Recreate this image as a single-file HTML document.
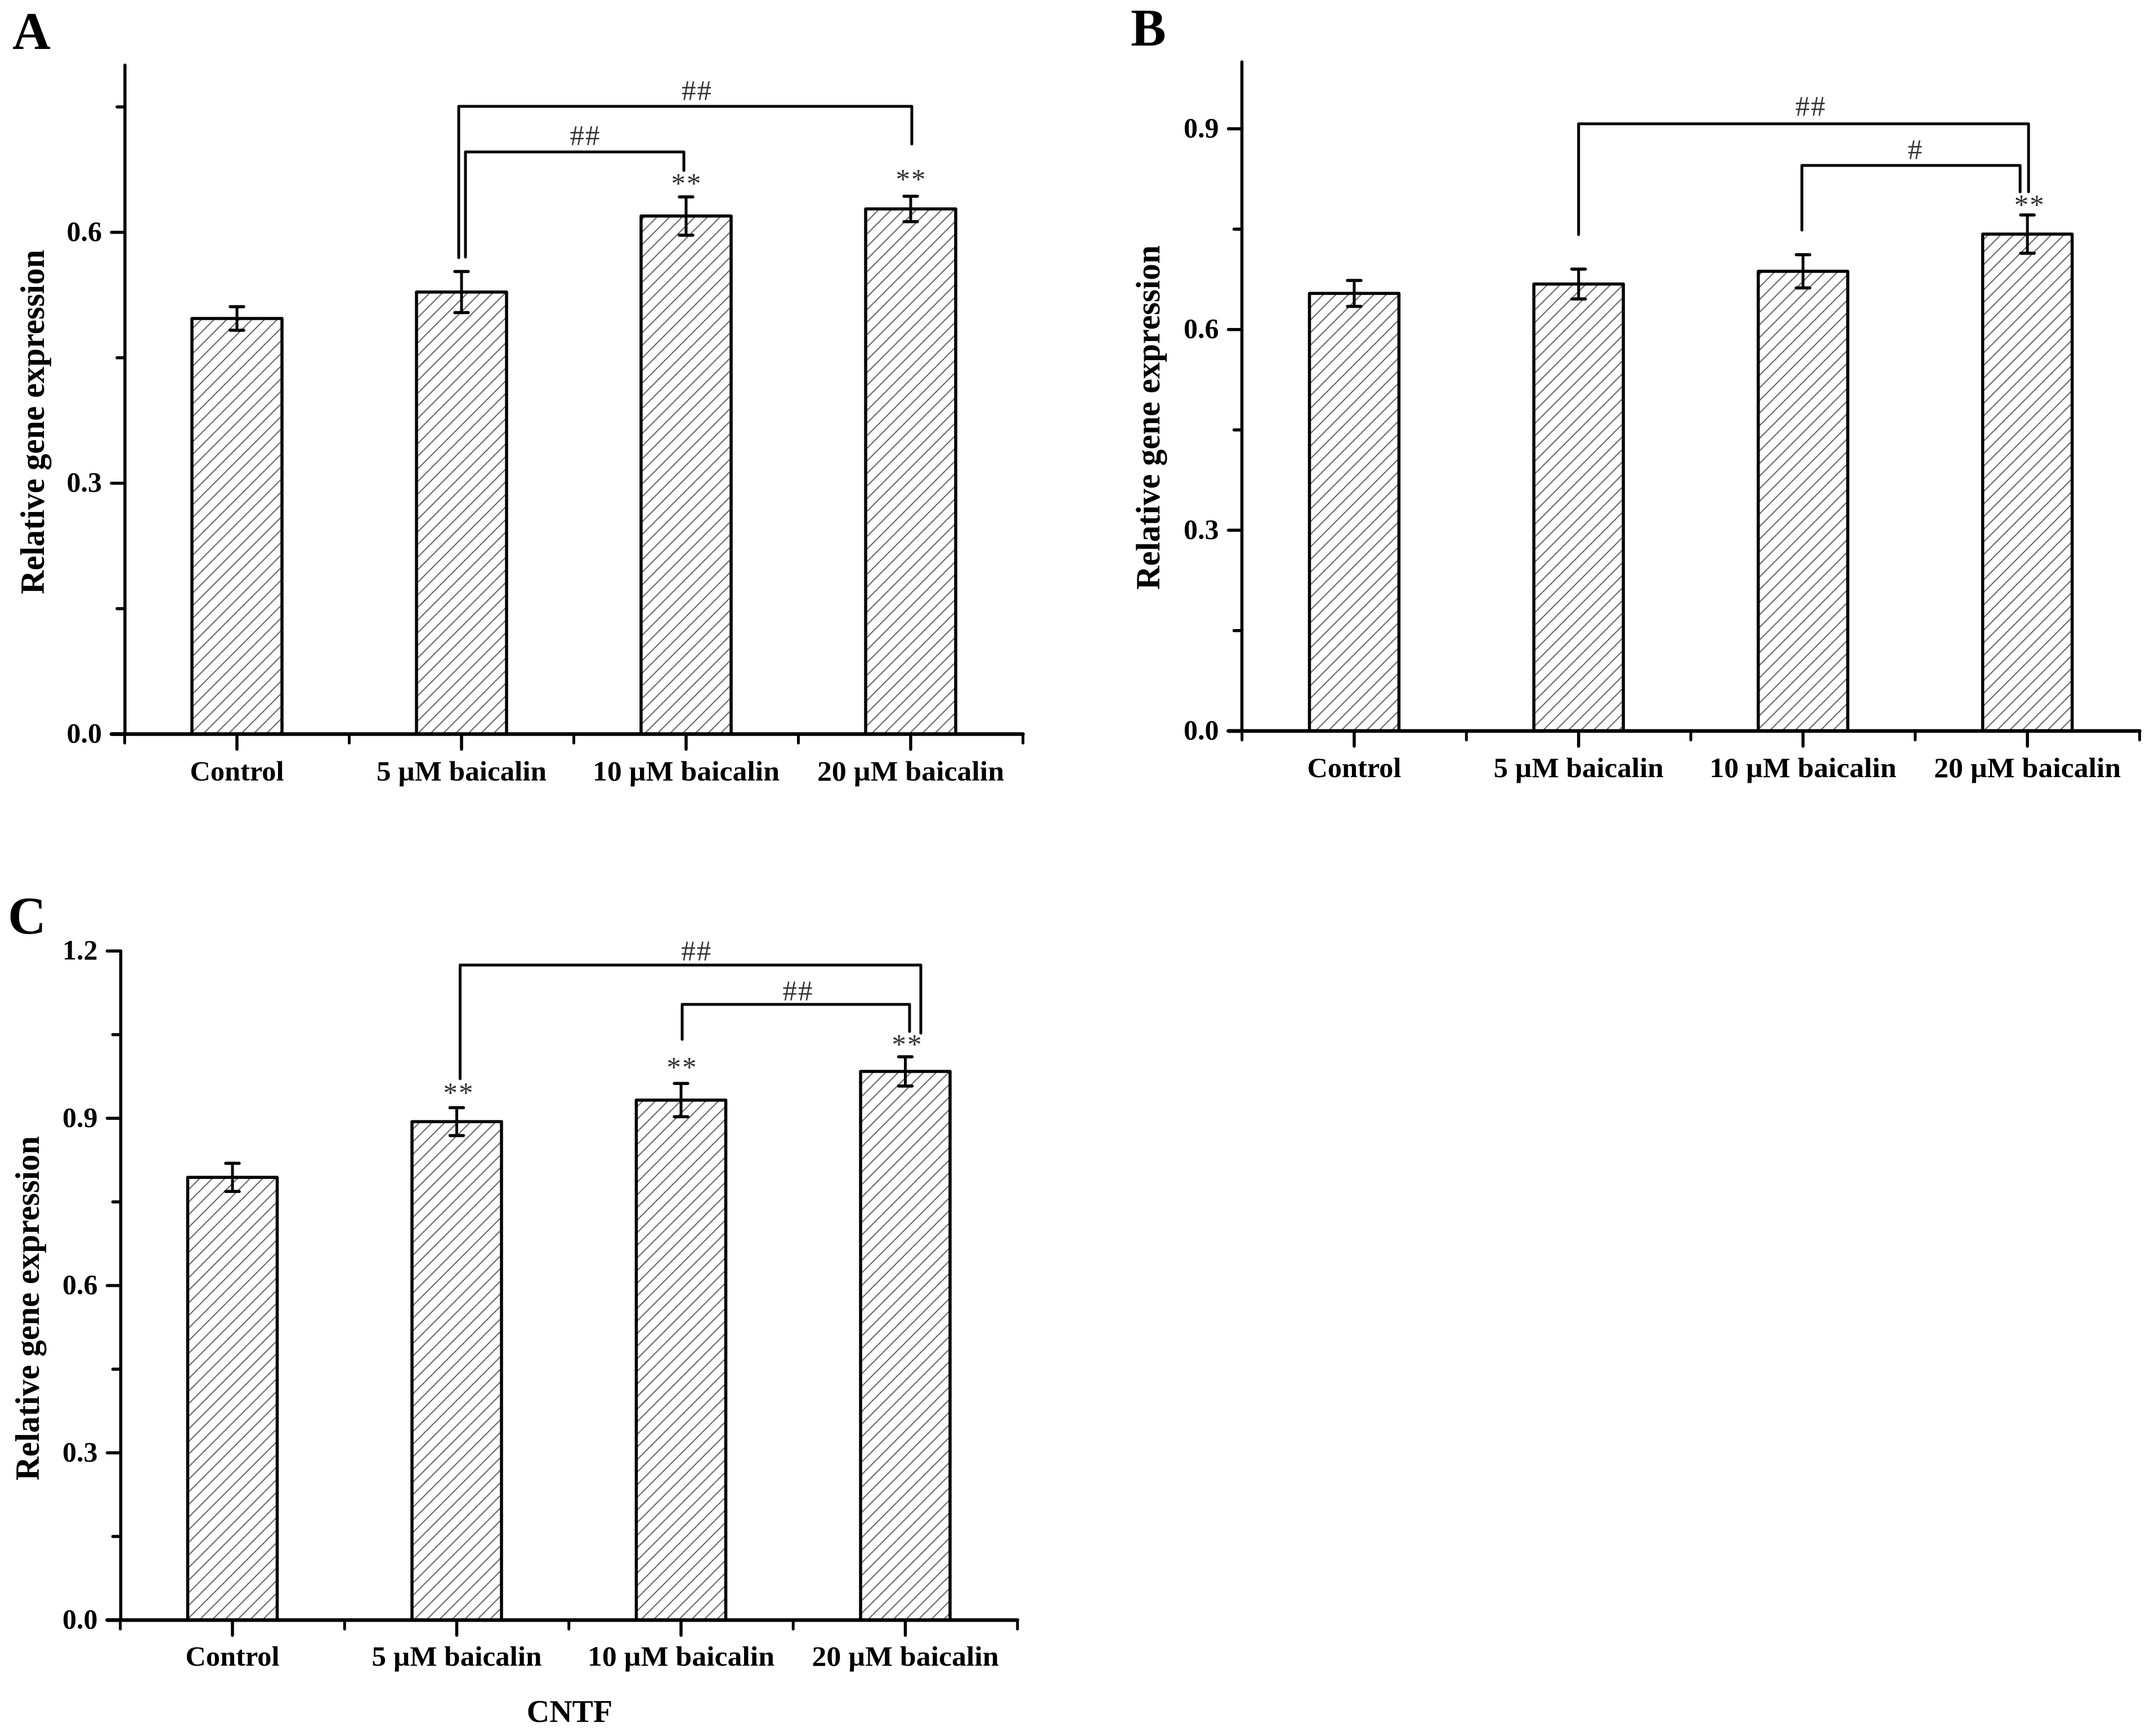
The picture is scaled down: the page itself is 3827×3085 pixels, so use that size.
<!DOCTYPE html>
<html lang="en">
<head>
<meta charset="utf-8">
<title>Relative gene expression with baicalin treatment</title>
<style>
  html, body { margin: 0; padding: 0; background: #fff; }
  svg { display: block; }
  text { font-family: "Liberation Serif", "Times New Roman", serif; fill: #000; }
  .tick { font-size: 50px; font-weight: bold; }
  .ytitle { font-size: 60px; font-weight: bold; }
  .letter { font-size: 94px; font-weight: bold; }
  .sig { font-size: 51px; fill: #333; letter-spacing: 2px; }
</style>
</head>
<body>
<svg id="figure" xmlns="http://www.w3.org/2000/svg" width="3827" height="3085" viewBox="0 0 3827 3085">
  <rect x="0" y="0" width="3827" height="3085" fill="#fff"/>
  <defs>
    <pattern id="hatch-a" patternUnits="userSpaceOnUse" width="22.4" height="22.4" patternTransform="translate(7.4 0)">
      <path d="M-2 24.4 L24.4 -2 M-2 2 L2 -2 M20.4 24.4 L24.4 20.4" stroke="#666" stroke-width="2.1" fill="none"/>
    </pattern>
  </defs>
  <g id="root"></g>
</svg>
<script>
const categories = ['Control', '5 \u00b5M baicalin', '10 \u00b5M baicalin', '20 \u00b5M baicalin'];

const majorTicksA = [0, 0.3, 0.6];
const minorTicksA = [0.15, 0.45, 0.75];
const majorLabelsA = ['0.0', '0.3', '0.6'];
const valuesA = [0.497, 0.5286, 0.6195, 0.628];
const errorsA = [0.0141, 0.0246, 0.0229, 0.0152];

const majorTicksB = [0, 0.3, 0.6, 0.9];
const minorTicksB = [0.15, 0.45, 0.75];
const majorLabelsB = ['0.0', '0.3', '0.6', '0.9'];
const valuesB = [0.654, 0.668, 0.687, 0.7426];
const errorsB = [0.0194, 0.0223, 0.0248, 0.0286];

const majorTicksC = [0, 0.3, 0.6, 0.9, 1.2];
const minorTicksC = [0.15, 0.45, 0.75, 1.05];
const majorLabelsC = ['0.0', '0.3', '0.6', '0.9', '1.2'];
const valuesC = [0.794, 0.894, 0.9326, 0.984];
const errorsC = [0.0252, 0.025, 0.0298, 0.0262];

const SVGNS = 'http://www.w3.org/2000/svg';
const root = document.getElementById('root');

function mk(parent, tag, attrs, txt) {
  const el = document.createElementNS(SVGNS, tag);
  for (const k in attrs) el.setAttribute(k, attrs[k]);
  if (txt !== undefined) el.textContent = txt;
  parent.appendChild(el);
  return el;
}

function line(parent, x1, y1, x2, y2, w) {
  return mk(parent, 'line', { x1: x1, y1: y1, x2: x2, y2: y2, stroke: '#000', 'stroke-width': w, 'stroke-linecap': 'round' });
}

function drawPanel(p) {
  const g = mk(root, 'g', {});
  
  

  const pxPerUnit = (p.baseY - p.topY) / p.yMax;
  p.y = function (v) { return p.baseY - v * pxPerUnit; };
  p.x = function (i) { return p.firstX + p.stepX * i; };

  const letter = mk(g, 'text', { class: 'letter', x: p.letterX, y: p.letterY }, p.letter);
  
  

  // bars
  p.values.forEach(function (v, i) {
    const bar = mk(g, 'rect', {
      x: p.x(i) - p.barW / 2, y: p.y(v), width: p.barW, height: p.baseY - p.y(v),
      fill: 'url(#hatch-a)', stroke: '#000', 'stroke-width': 5.5, 'stroke-linejoin': 'round'
    });
    
    
  });

  // error bars
  p.values.forEach(function (v, i) {
    const e = p.errors[i];
    const eg = mk(g, 'g', {});
    
    
    const cx = p.x(i);
    line(eg, cx, p.y(v + e), cx, p.y(v - e), 5);
    line(eg, cx - 12, p.y(v + e), cx + 12, p.y(v + e), 5.5);
    line(eg, cx - 12, p.y(v - e), cx + 12, p.y(v - e), 5.5);
  });

  // y axis
  const yAxis = mk(g, 'g', {});
  
  
  line(yAxis, p.axisX, p.topY, p.axisX, p.baseY, 5.5);
  p.majorTicks.forEach(function (t, i) {
    line(yAxis, p.axisX - 24, p.y(t), p.axisX, p.y(t), t === 0 ? 6.5 : 5.5);
    const lab = mk(yAxis, 'text', { class: 'tick', x: p.axisX - 41, y: p.y(t) + 15, 'text-anchor': 'end' }, p.majorLabels[i]);
    
    
  });
  p.minorTicks.forEach(function (t) {
    line(yAxis, p.axisX - 14, p.y(t), p.axisX, p.y(t), 5.5);
  });

  const title = mk(g, 'text', {
    class: 'ytitle', x: 0, y: 0, 'text-anchor': 'middle',
    textLength: 612, lengthAdjust: 'spacingAndGlyphs',
    transform: 'translate(' + p.titleX + ' ' + p.titleY + ') rotate(-90)'
  }, 'Relative gene expression');
  
  

  // x axis
  const xAxis = mk(g, 'g', {});
  
  
  const rightX = p.firstX + p.stepX * 3.5;
  line(xAxis, p.axisX - 24, p.baseY, rightX, p.baseY, 6.5);
  for (let i = 0; i <= 4; i++) {
    const mx = p.firstX + p.stepX * (i - 0.5);
    line(xAxis, mx, p.baseY, mx, p.baseY + 16, 5);
  }
  categories.forEach(function (c, i) {
    line(xAxis, p.x(i), p.baseY, p.x(i), p.baseY + 27, 5.5);
    const lab = mk(xAxis, 'text', { class: 'tick', x: p.x(i), y: p.baseY + p.labelDrop, 'text-anchor': 'middle', textLength: c === 'Control' ? 167 : (c.length > 13 ? 332 : 302), lengthAdjust: 'spacingAndGlyphs' }, c);
    
    
  });
  p.group = g;
}

// bracket between two categories; heights are given on the value axis
function bracket(p, fromCat, toCat, topVal, fromEnd, toEnd, dxFrom, dxTo, label, labelDx, labelLift) {
  const b = mk(p.group, 'g', {});
  
  
  const xa = p.x(fromCat) + dxFrom;
  const xb = p.x(toCat) + dxTo;
  mk(b, 'path', {
    d: 'M' + xa + ' ' + p.y(fromEnd) + ' L' + xa + ' ' + p.y(topVal) + ' L' + xb + ' ' + p.y(topVal) + ' L' + xb + ' ' + p.y(toEnd),
    fill: 'none', stroke: '#000', 'stroke-width': 5, 'stroke-linecap': 'round', 'stroke-linejoin': 'round'
  });
  const t = mk(b, 'text', { class: 'sig', x: (xa + xb) / 2 + labelDx, y: p.y(topVal) - labelLift, 'text-anchor': 'middle' }, label);
  
  
}

// ** marker placed above a category's error bar
function star(p, cat, dx, gap) {
  const top = p.y(p.values[cat] + p.errors[cat]);
  const t = mk(p.group, 'text', { class: 'sig', x: p.x(cat) + dx, y: top - gap, 'text-anchor': 'middle' }, '**');
  
  
}

const panelA = { id: 'a', letter: 'A', letterX: 22, letterY: 87, axisX: 222, baseY: 1304.5, topY: 115.7, yMax: 0.8,
  firstX: 421, stepX: 399, barW: 160, labelDrop: 82.5, titleX: 78, titleY: 750,
  values: valuesA, errors: errorsA, majorTicks: majorTicksA, minorTicks: minorTicksA, majorLabels: majorLabelsA };
const panelB = { id: 'b', letter: 'B', letterX: 2009, letterY: 81, axisX: 2206.5, baseY: 1299, topY: 110, yMax: 1.0,
  firstX: 2406, stepX: 398.7, barW: 159, labelDrop: 82, titleX: 2060, titleY: 742,
  values: valuesB, errors: errorsB, majorTicks: majorTicksB, minorTicks: minorTicksB, majorLabels: majorLabelsB };
const panelC = { id: 'c', letter: 'C', letterX: 14, letterY: 1659, axisX: 214.5, baseY: 2879, topY: 1690, yMax: 1.2,
  firstX: 413, stepX: 398.5, barW: 159, labelDrop: 81, titleX: 69, titleY: 2325,
  values: valuesC, errors: errorsC, majorTicks: majorTicksC, minorTicks: minorTicksC, majorLabels: majorLabelsC };

drawPanel(panelA);
drawPanel(panelB);
drawPanel(panelC);

bracket(panelA, 1, 3, 0.7507, 0.5697, 0.7056, -5, 2, '##', 21, 11);
bracket(panelA, 1, 2, 0.6962, 0.5703, 0.674, 7, -4, '##', 19, 12);
star(panelA, 2, 1, 7);
star(panelA, 3, 1, 13);

bracket(panelB, 1, 3, 0.9075, 0.7418, 0.8057, 0, 2, '##', 13, 14);
bracket(panelB, 2, 3, 0.8452, 0.7485, 0.8057, -2, -13, '#', 8, 11);
star(panelB, 3, 4, 1);

bracket(panelC, 1, 3, 1.1748, 0.9709, 1.0527, 6, 27.5, '##', 11, 8);
bracket(panelC, 2, 3, 1.1042, 1.0416, 1.0557, 2, 7.5, '##', 4, 7);
star(panelC, 1, 3.5, 9.5);
star(panelC, 2, 2, 12);
star(panelC, 3, 3.5, 5);

const xTitle = mk(panelC.group, 'text', { x: 1012, y: 3060, 'text-anchor': 'middle', 'font-size': 56, 'font-weight': 'bold' }, 'CNTF');


</script>
</body>
</html>
